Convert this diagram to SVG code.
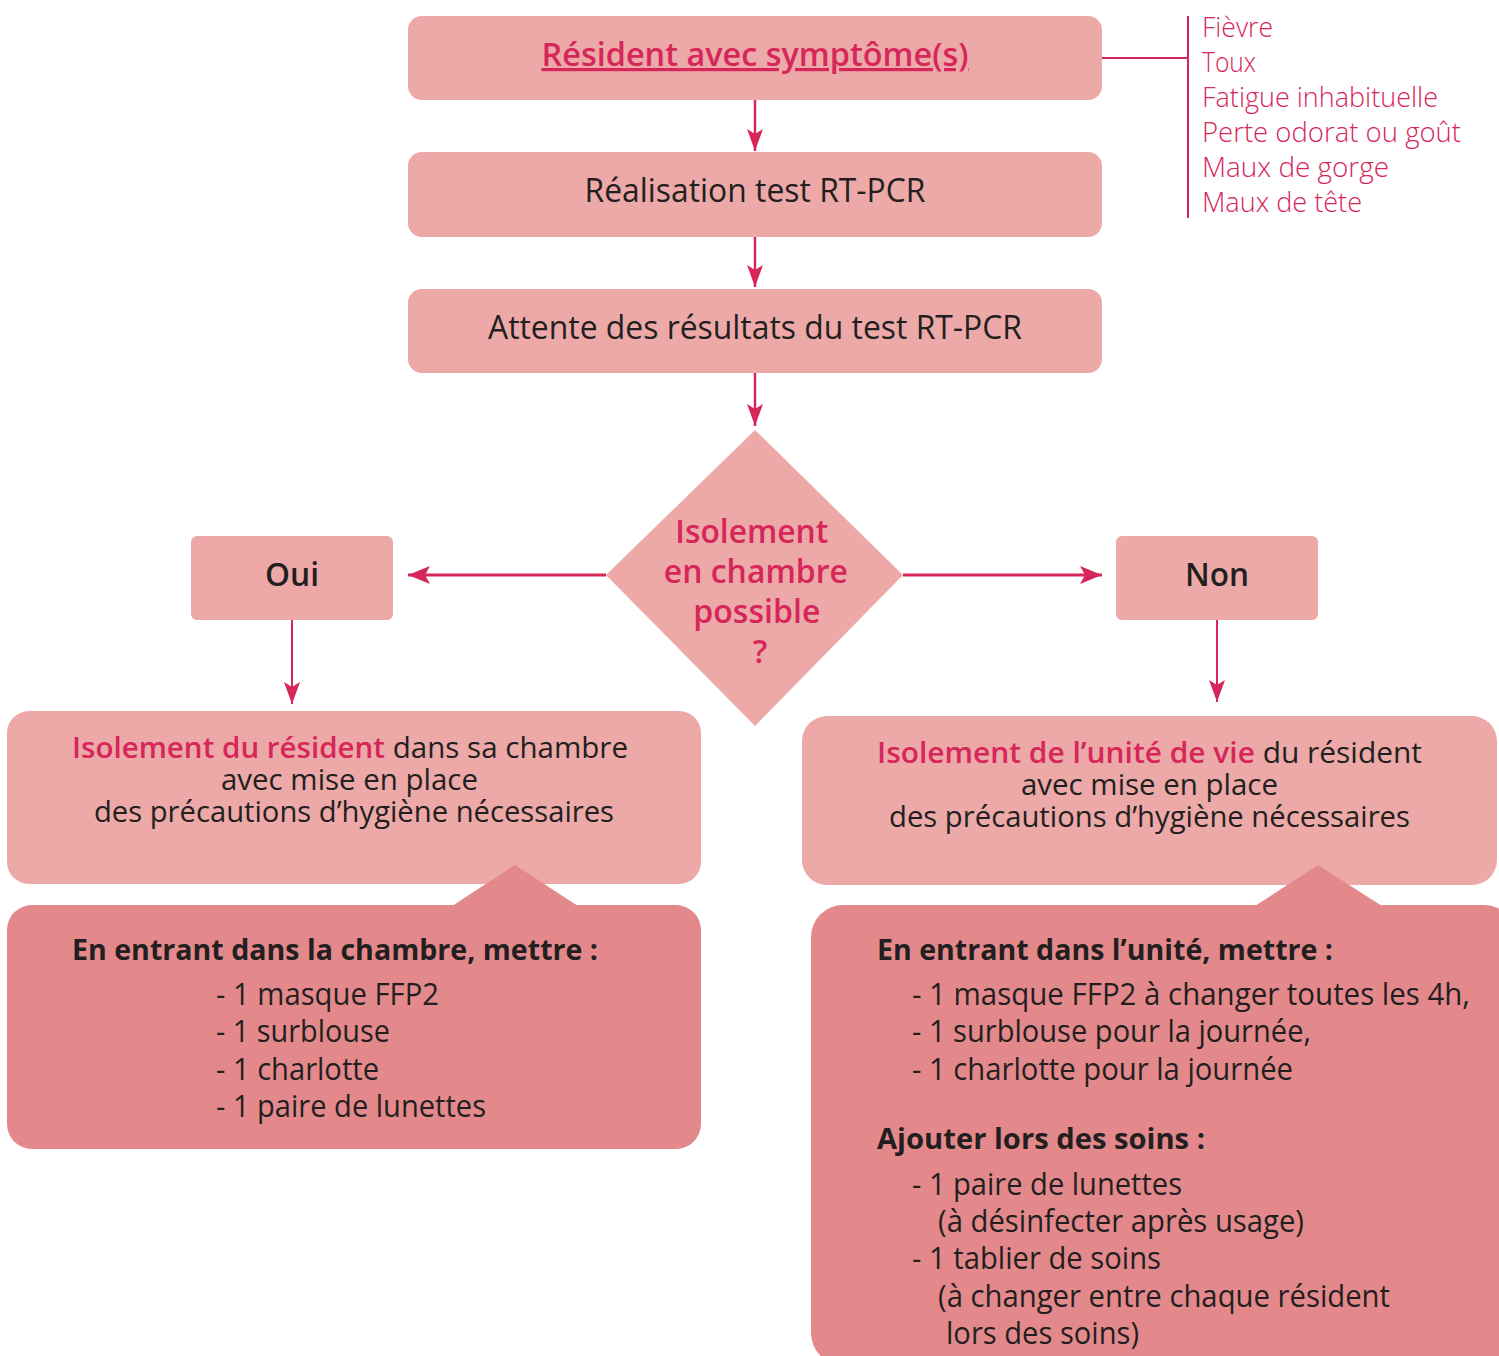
<svg xmlns="http://www.w3.org/2000/svg" width="1499" height="1356" viewBox="0 0 1499 1356">
<style>
.lt{fill:#ECA9A8}
.dk{fill:#E3898C}
.t{font-family:"Open Sans","Noto Sans","Liberation Sans",sans-serif;fill:#231F20}
.acc{fill:#D6265A}
.b{font-weight:600}
.bb{font-weight:700}
.sy{font-family:"Open Sans","Noto Sans","Liberation Sans",sans-serif;fill:#D6265A;font-size:27px;font-weight:300}
.ln{stroke:#D6265A;fill:none}
</style>
<defs>
<marker id="ah" viewBox="0 0 22 18" refX="22" refY="9" markerWidth="22" markerHeight="18" markerUnits="userSpaceOnUse" orient="auto">
<path d="M0,0 L22,9 L0,18 L5,9 z" fill="#D6265A"/>
</marker>
<marker id="ah2" viewBox="0 0 22 16" refX="22" refY="8" markerWidth="22" markerHeight="16" markerUnits="userSpaceOnUse" orient="auto">
<path d="M0,0 L22,8 L0,16 L5,8 z" fill="#D6265A"/>
</marker>
</defs>

<g id="connectors">
<line class="ln" x1="755" y1="100" x2="755" y2="151" stroke-width="2.5" marker-end="url(#ah2)"/>
<line class="ln" x1="755" y1="237" x2="755" y2="287" stroke-width="2.5" marker-end="url(#ah2)"/>
<line class="ln" x1="755" y1="373" x2="755" y2="426" stroke-width="2.5" marker-end="url(#ah2)"/>
<line class="ln" x1="606" y1="575" x2="408" y2="575" stroke-width="3" marker-end="url(#ah)"/>
<line class="ln" x1="903" y1="575" x2="1102" y2="575" stroke-width="3" marker-end="url(#ah)"/>
<line class="ln" x1="292" y1="620" x2="292" y2="704" stroke-width="2" marker-end="url(#ah2)"/>
<line class="ln" x1="1217" y1="620" x2="1217" y2="702" stroke-width="2" marker-end="url(#ah2)"/>
<line class="ln" x1="1102" y1="58" x2="1188" y2="58" stroke-width="2"/>
<line class="ln" x1="1188" y1="16" x2="1188" y2="218" stroke-width="2"/>
</g>

<g id="n-resident">
<rect class="lt" x="408" y="16" width="694" height="84" rx="14"/>
<text class="t acc b" x="755" y="66" font-size="32" text-anchor="middle" text-decoration="underline" textLength="427" lengthAdjust="spacingAndGlyphs">Résident avec symptôme(s)</text>
</g>

<g id="n-symptomes">
<text class="sy" x="1202" y="37" textLength="71" lengthAdjust="spacingAndGlyphs">Fièvre</text>
<text class="sy" x="1202" y="72" textLength="54" lengthAdjust="spacingAndGlyphs">Toux</text>
<text class="sy" x="1202" y="107" textLength="236" lengthAdjust="spacingAndGlyphs">Fatigue inhabituelle</text>
<text class="sy" x="1202" y="142" textLength="259" lengthAdjust="spacingAndGlyphs">Perte odorat ou goût</text>
<text class="sy" x="1202" y="177" textLength="187" lengthAdjust="spacingAndGlyphs">Maux de gorge</text>
<text class="sy" x="1202" y="212" textLength="160" lengthAdjust="spacingAndGlyphs">Maux de tête</text>
</g>

<g id="n-test">
<rect class="lt" x="408" y="152" width="694" height="85" rx="14"/>
<text class="t" x="755" y="202" font-size="32" text-anchor="middle" textLength="341" lengthAdjust="spacingAndGlyphs">Réalisation test RT-PCR</text>
</g>

<g id="n-attente">
<rect class="lt" x="408" y="289" width="694" height="84" rx="14"/>
<text class="t" x="755" y="339" font-size="32" text-anchor="middle" textLength="534" lengthAdjust="spacingAndGlyphs">Attente des résultats du test RT-PCR</text>
</g>

<g id="n-decision">
<polygon class="lt" points="755,430 903,575 755,726 606,575"/>
<text class="t acc b" font-size="32" text-anchor="middle">
<tspan x="756" y="543" textLength="153" lengthAdjust="spacingAndGlyphs">Isolement</tspan>
<tspan x="760" y="583" textLength="184" lengthAdjust="spacingAndGlyphs">en chambre</tspan>
<tspan x="761" y="623" textLength="127" lengthAdjust="spacingAndGlyphs">possible</tspan>
<tspan x="760" y="663">?</tspan>
</text>
</g>

<g id="n-oui">
<rect class="lt" x="191" y="536" width="202" height="84" rx="6"/>
<text class="t b" x="292" y="586" font-size="32" text-anchor="middle" textLength="54" lengthAdjust="spacingAndGlyphs">Oui</text>
</g>

<g id="n-non">
<rect class="lt" x="1116" y="536" width="202" height="84" rx="6"/>
<text class="t b" x="1217" y="586" font-size="32" text-anchor="middle" textLength="64" lengthAdjust="spacingAndGlyphs">Non</text>
</g>

<g id="n-isol-chambre">
<rect class="lt" x="7" y="711" width="694" height="173" rx="22"/>
<text class="t" x="72" y="758" font-size="29" textLength="556" lengthAdjust="spacingAndGlyphs"><tspan class="acc b">Isolement du résident</tspan> dans sa chambre</text>
<text class="t" x="349.5" y="790" font-size="29" text-anchor="middle" textLength="257" lengthAdjust="spacingAndGlyphs">avec mise en place</text>
<text class="t" x="354" y="822" font-size="29" text-anchor="middle" textLength="520" lengthAdjust="spacingAndGlyphs">des précautions d’hygiène nécessaires</text>
</g>

<g id="n-equip-chambre">
<rect class="dk" x="7" y="905" width="694" height="244" rx="25"/>
<polygon class="dk" points="452,906 515,865 578,906"/>
<text class="t bb" x="72" y="960" font-size="29" textLength="526" lengthAdjust="spacingAndGlyphs">En entrant dans la chambre, mettre :</text>
<text class="t" x="216" y="1005" font-size="31" textLength="223" lengthAdjust="spacingAndGlyphs">- 1 masque FFP2</text>
<text class="t" x="216" y="1042" font-size="31" textLength="174" lengthAdjust="spacingAndGlyphs">- 1 surblouse</text>
<text class="t" x="216" y="1080" font-size="31" textLength="163" lengthAdjust="spacingAndGlyphs">- 1 charlotte</text>
<text class="t" x="216" y="1117" font-size="31" textLength="270" lengthAdjust="spacingAndGlyphs">- 1 paire de lunettes</text>
</g>

<g id="n-isol-unite">
<rect class="lt" x="802" y="716" width="695" height="169" rx="25"/>
<text class="t" x="877" y="763" font-size="29" textLength="545" lengthAdjust="spacingAndGlyphs"><tspan class="acc b">Isolement de l’unité de vie</tspan> du résident</text>
<text class="t" x="1149.5" y="795" font-size="29" text-anchor="middle" textLength="257" lengthAdjust="spacingAndGlyphs">avec mise en place</text>
<text class="t" x="1149.5" y="827" font-size="29" text-anchor="middle" textLength="521" lengthAdjust="spacingAndGlyphs">des précautions d’hygiène nécessaires</text>
</g>

<g id="n-equip-unite">
<rect class="dk" x="811" y="905" width="705" height="460" rx="32"/>
<polygon class="dk" points="1255,906 1318,865 1382,906"/>
<text class="t bb" x="877" y="960" font-size="29" textLength="456" lengthAdjust="spacingAndGlyphs">En entrant dans l’unité, mettre :</text>
<text class="t" x="912" y="1005" font-size="31" textLength="558" lengthAdjust="spacingAndGlyphs">- 1 masque FFP2 à changer toutes les 4h,</text>
<text class="t" x="912" y="1042" font-size="31" textLength="399" lengthAdjust="spacingAndGlyphs">- 1 surblouse pour la journée,</text>
<text class="t" x="912" y="1080" font-size="31" textLength="381" lengthAdjust="spacingAndGlyphs">- 1 charlotte pour la journée</text>
<text class="t bb" x="877" y="1149" font-size="29" textLength="328" lengthAdjust="spacingAndGlyphs">Ajouter lors des soins :</text>
<text class="t" x="912" y="1195" font-size="31" textLength="270" lengthAdjust="spacingAndGlyphs">- 1 paire de lunettes</text>
<text class="t" x="938" y="1232" font-size="31" textLength="366" lengthAdjust="spacingAndGlyphs">(à désinfecter après usage)</text>
<text class="t" x="912" y="1269" font-size="31" textLength="249" lengthAdjust="spacingAndGlyphs">- 1 tablier de soins</text>
<text class="t" x="938" y="1307" font-size="31" textLength="452" lengthAdjust="spacingAndGlyphs">(à changer entre chaque résident</text>
<text class="t" x="946" y="1344" font-size="31" textLength="193" lengthAdjust="spacingAndGlyphs">lors des soins)</text>
</g>
</svg>
